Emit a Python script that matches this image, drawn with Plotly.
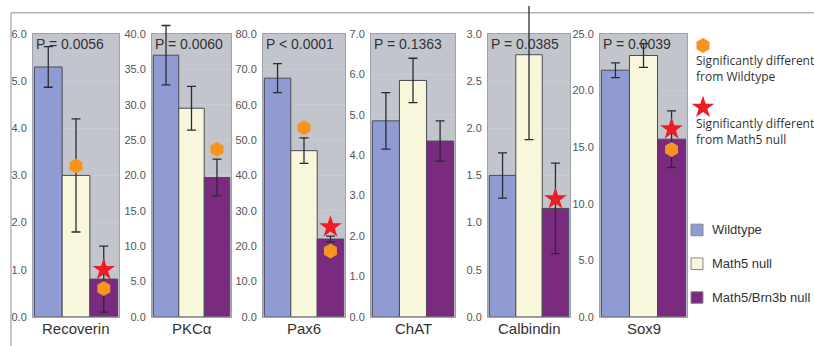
import plotly.graph_objects as go

W, H = 814, 346

markers_names = ["Recoverin", "PKCα", "Pax6", "ChAT", "Calbindin", "Sox9"]
p_texts = ["P = 0.0056", "P = 0.0060", "P < 0.0001", "P = 0.1363", "P = 0.0385", "P = 0.0039"]
groups = ["Wildtype", "Math5 null", "Math5/Brn3b null"]

wildtype = [5.3, 37.0, 67.5, 4.85, 1.5, 21.8]
wildtype_err = [0.43, 4.2, 4.1, 0.7, 0.24, 0.65]
math5 = [3.0, 29.5, 47.0, 5.85, 2.78, 23.1]
math5_err = [1.2, 3.1, 3.6, 0.55, 0.9, 1.05]
double = [0.8, 19.7, 22.0, 4.35, 1.15, 15.7]
double_err = [0.7, 2.6, 0.8, 0.5, 0.48, 2.5]

y_max = [6.0, 40.0, 80.0, 7.0, 3.0, 25.0]
y_dtick = [1.0, 5.0, 10.0, 1.0, 0.5, 5.0]

# significance markers: (panel index, group index, y)
vs_wildtype = [(0, 1, 3.2), (0, 2, 0.6), (1, 2, 23.7), (2, 1, 53.5), (2, 2, 18.6), (5, 2, 14.8)]
vs_math5 = [(0, 2, 1.0), (2, 2, 25.4), (4, 2, 1.25), (5, 2, 16.6)]

colors = ["#8f9bd2", "#f9f7db", "#7a2a7f"]
panel_bg = "#c2c5cc"
orange = "#f7941d"
red = "#ee1c24"

x_px = [(33, 119), (152, 231), (263, 345), (371, 455), (488, 570), (600, 687)]
y_dom = [1 - 322 / H, 1 - 29 / H]
ext_top = 1.0
ext_factor = (ext_top - y_dom[0]) / (y_dom[1] - y_dom[0])

fig = go.Figure()
layout = dict(
    width=W, height=H, margin=dict(l=0, r=0, t=0, b=0),
    paper_bgcolor="white", plot_bgcolor="rgba(0,0,0,0)", showlegend=False,
    font=dict(family="Liberation Sans, Arial", color="#333"),
)
annotations = []
shapes = []

for i in range(6):
    ax = "" if i == 0 else str(i + 1)
    eax = str(i + 8)
    vals = [wildtype[i], math5[i], double[i]]
    errs = [wildtype_err[i], math5_err[i], double_err[i]]
    fig.add_trace(go.Bar(
        x=[0, 1, 2], y=vals, width=1.0,
        marker=dict(color=colors, line=dict(color="#4a4a58", width=1)),
        xaxis="x" + ax, yaxis="y" + ax,
    ))
    # error bars + markers on an extended (same scale) axis so they are not clipped
    fig.add_trace(go.Scatter(
        x=[0, 1, 2], y=vals, mode="markers",
        marker=dict(size=1, color="rgba(0,0,0,0)"),
        error_y=dict(type="data", array=errs, color="#2a2a35", thickness=1.3, width=4.5),
        xaxis="x" + ax, yaxis="y" + eax, cliponaxis=False, hoverinfo="skip",
    ))
    ow = [(g, y) for (p, g, y) in vs_wildtype if p == i]
    if ow:
        fig.add_trace(go.Scatter(
            x=[g for g, _ in ow], y=[y for _, y in ow], mode="markers",
            marker=dict(symbol="hexagon", size=15, color=orange, line=dict(width=0)),
            xaxis="x" + ax, yaxis="y" + eax, cliponaxis=False,
        ))
    om = [(g, y) for (p, g, y) in vs_math5 if p == i]
    if om:
        fig.add_trace(go.Scatter(
            x=[g for g, _ in om], y=[y for _, y in om], mode="markers",
            marker=dict(symbol="star", size=17, color=red, line=dict(width=0)),
            xaxis="x" + ax, yaxis="y" + eax, cliponaxis=False,
        ))
    x0, x1 = x_px[i]
    layout["xaxis" + ax] = dict(
        domain=[x0 / W, x1 / W], range=[-0.55, 2.55], showticklabels=False,
        showgrid=False, zeroline=False, showline=True, mirror=True,
        linecolor="#9ea2aa", linewidth=1, anchor="y" + ax, fixedrange=True,
    )
    layout["yaxis" + ax] = dict(
        domain=y_dom, range=[0, y_max[i]], dtick=y_dtick[i], tickformat=".1f",
        showgrid=True, gridcolor="#c9ccd2", gridwidth=1, zeroline=False,
        showline=True, mirror=True, linecolor="#9ea2aa", linewidth=1,
        tickfont=dict(size=11, color="#555"), anchor="x" + ax, ticks="",
        ticklabelstandoff=3, fixedrange=True,
    )
    layout["yaxis" + eax] = dict(
        domain=[y_dom[0], ext_top], range=[0, y_max[i] * ext_factor],
        visible=False, anchor="x" + ax, fixedrange=True,
    )
    shapes.append(dict(
        type="rect", xref="x" + ax + " domain", yref="y" + ax + " domain",
        x0=0, x1=1, y0=0, y1=1, fillcolor=panel_bg, line=dict(width=0),
        layer="below",
    ))
    annotations.append(dict(
        x=(x0 + x1) / 2 / W, y=1 - 334 / H, xref="paper", yref="paper",
        text=markers_names[i], showarrow=False, font=dict(size=15, color="#333"),
        xanchor="center", yanchor="middle",
    ))
    annotations.append(dict(
        x=(x0 + 1) / W, y=y_dom[1], xref="paper", yref="paper",
        text=p_texts[i], showarrow=False, font=dict(size=14, color="#333"),
        xanchor="left", yanchor="top",
    ))

# legend area on a hidden pixel-mapped axis
layout["xaxis7"] = dict(domain=[0, 1], range=[0, W], visible=False, fixedrange=True, anchor="y7")
layout["yaxis7"] = dict(domain=[0, 1], range=[H, 0], visible=False, fixedrange=True, anchor="x7")
fig.add_trace(go.Scatter(
    x=[703], y=[41], mode="markers",
    marker=dict(symbol="hexagon", size=15, color=orange),
    xaxis="x7", yaxis="y7", cliponaxis=False, hoverinfo="skip",
))
fig.add_trace(go.Scatter(
    x=[703], y=[105], mode="markers",
    marker=dict(symbol="star", size=17, color=red),
    xaxis="x7", yaxis="y7", cliponaxis=False, hoverinfo="skip",
))
legend_text_font = dict(family="Open Sans, Noto Sans", size=12, color="#333")
for txt, yc in [("Significantly different<br>from Wildtype", 65),
                ("Significantly different<br>from Math5 null", 130)]:
    annotations.append(dict(
        x=694 / W, y=1 - yc / H, xref="paper", yref="paper", text=txt,
        showarrow=False, align="left", xanchor="left", yanchor="middle",
        font=legend_text_font,
    ))
for g, yc in zip(range(3), [232, 267, 302]):
    shapes.append(dict(
        type="rect", xref="paper", yref="paper",
        x0=691 / W, x1=703 / W, y0=1 - (yc + 6) / H, y1=1 - (yc - 6) / H,
        fillcolor=colors[g], line=dict(color="#888", width=1),
    ))
    annotations.append(dict(
        x=710 / W, y=1 - yc / H, xref="paper", yref="paper", text=groups[g],
        showarrow=False, xanchor="left", yanchor="middle",
        font=dict(size=13, color="#333"),
    ))

# outer frame
shapes.append(dict(type="line", xref="paper", yref="paper",
                   x0=11 / W, x1=1.02, y0=1 - 7 / H, y1=1 - 7 / H,
                   line=dict(color="#b4b4b4", width=1.5), layer="below"))
shapes.append(dict(type="line", xref="paper", yref="paper",
                   x0=11 / W, x1=11 / W, y0=-0.02, y1=1 - 7 / H,
                   line=dict(color="#b4b4b4", width=1.5), layer="below"))

layout["annotations"] = annotations
layout["shapes"] = shapes
fig.update_layout(**layout)
fig.write_html("out.html")
